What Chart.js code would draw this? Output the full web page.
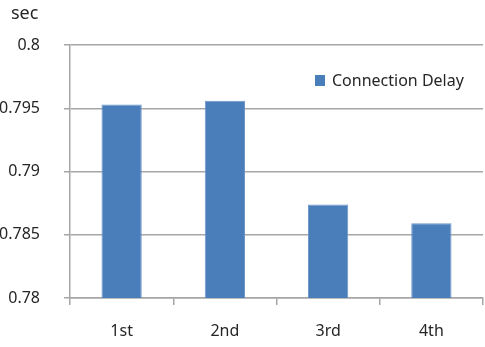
<!DOCTYPE html>
<html><head><meta charset="utf-8">
<script src="https://cdn.jsdelivr.net/npm/chart.js@4/dist/chart.umd.min.js"></script>
<style>html,body{margin:0;padding:0;background:#fff}#wrap{width:485px;height:347px}</style>
</head><body><div id="wrap"><canvas id="c" width="485" height="347"></canvas></div>
<script>
const categories = ['1st', '2nd', '3rd', '4th'];
const connectionDelay = [0.7953, 0.7956, 0.7874, 0.7859];
const yTicks = [0.78, 0.785, 0.79, 0.795, 0.8];
const seriesLabel = 'Connection Delay';
const unitLabel = 'sec';

const FONT = '"Noto Sans", "Open Sans", sans-serif';
const TXT = '#262626';

const overlay = {
  id: 'overlay',
  afterDraw(chart) {
    const ctx = chart.ctx;
    ctx.save();
    ctx.font = '18px ' + FONT;
    ctx.fillStyle = TXT;
    ctx.textBaseline = 'middle';
    ctx.textAlign = 'left';
    ctx.fillText(unitLabel, 11, 14);
    ctx.font = '16px ' + FONT;
    const ds = chart.data.datasets[0];
    ctx.fillStyle = ds.backgroundColor;
    ctx.fillRect(315, 75, 10, 11);
    ctx.fillStyle = TXT;
    ctx.fillText(ds.label, 332, 81);
    ctx.restore();
  }
};

new Chart(document.getElementById('c'), {
  type: 'bar',
  data: {
    labels: categories,
    datasets: [{
      label: seriesLabel,
      data: connectionDelay,
      backgroundColor: '#4a7ebb',
      borderColor: '#6c97cb',
      borderWidth: 1,
      categoryPercentage: 1,
      barPercentage: 0.39
    }]
  },
  options: {
    responsive: false,
    animation: false,
    layout: { padding: { top: 45, right: 2, left: 0, bottom: 0 } },
    plugins: { legend: { display: false }, tooltip: { enabled: false } },
    scales: {
      x: {
        grid: { offset: true, drawOnChartArea: false, drawTicks: true, tickLength: 7, color: '#a6a6a6', lineWidth: 1.5 },
        border: { display: true, color: '#a6a6a6', width: 1.5 },
        ticks: { font: { family: FONT, size: 16 }, color: TXT, padding: 17 },
        afterFit(s) { s.height = 49; }
      },
      y: {
        min: 0.78, max: 0.8,
        afterBuildTicks(s) { s.ticks = yTicks.map(v => ({ value: v })); },
        grid: { color: '#a6a6a6', lineWidth: 1.5, tickLength: 6 },
        border: { display: true, color: '#a6a6a6', width: 1.5 },
        ticks: {
          font: { family: FONT, size: 16 }, color: TXT, padding: 24,
          callback: v => String(Number(v.toFixed(3)))
        },
        afterFit(s) { s.width = 70; }
      }
    }
  },
  plugins: [overlay]
});
</script></body></html>
